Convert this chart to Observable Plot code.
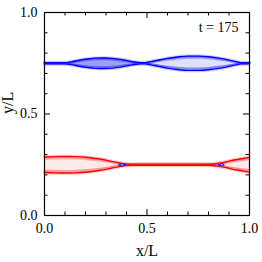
<!DOCTYPE html>
<html>
<head>
<meta charset="utf-8">
<script src="https://cdn.jsdelivr.net/npm/d3@7"></script>
<script src="https://cdn.jsdelivr.net/npm/@observablehq/plot@0.6"></script>
<style>
  html, body { margin: 0; padding: 0; background: white; }
</style>
</head>
<body>
<div id="chart"></div>
<script>
// ---- data ----
const majorTicks = [0, 0.5, 1];
const minorTicks = [0.1, 0.2, 0.3, 0.4, 0.6, 0.7, 0.8, 0.9];
const xLabel = "x/L";
const yLabel = "y/L";
const timeLabel = "t = 175";

// upper (blue) current sheet at y/L = 0.75
const blueY0 = 0.75;
const blueX     = [0, 0.05, 0.10, 0.13, 0.17, 0.21, 0.25, 0.29, 0.33, 0.37, 0.41, 0.44, 0.47, 0.49, 0.52, 0.56, 0.60, 0.65, 0.70, 0.75, 0.80, 0.85, 0.89, 0.93, 0.96, 1.0];
const blueHalf  = [0.003, 0.003, 0.003, 0.007, 0.015, 0.021, 0.025, 0.026, 0.024, 0.019, 0.012, 0.006, 0.003, 0.003, 0.008, 0.016, 0.024, 0.031, 0.035, 0.035, 0.032, 0.025, 0.018, 0.009, 0.003, 0.003];
const blueInner = [0, 0, 0, 0.002, 0.008, 0.013, 0.016, 0.017, 0.015, 0.011, 0.006, 0.002, 0, 0, 0.003, 0.009, 0.015, 0.020, 0.023, 0.023, 0.021, 0.015, 0.010, 0.004, 0, 0];

// lower (red) current sheet at y/L = 0.25
const redY0 = 0.25;
const redX     = [0, 0.05, 0.10, 0.15, 0.20, 0.25, 0.30, 0.34, 0.37, 0.40, 0.43, 0.50, 0.60, 0.70, 0.78, 0.82, 0.85, 0.88, 0.91, 0.94, 0.97, 1.0];
const redHalf  = [0.038, 0.040, 0.041, 0.040, 0.037, 0.031, 0.023, 0.014, 0.008, 0.004, 0.003, 0.003, 0.003, 0.003, 0.003, 0.004, 0.008, 0.013, 0.020, 0.026, 0.031, 0.036];
const redInner = [0.026, 0.028, 0.029, 0.028, 0.025, 0.020, 0.014, 0.007, 0.004, 0.001, 0, 0, 0, 0, 0, 0, 0.002, 0.006, 0.012, 0.016, 0.020, 0.024];

// reversed-current (blue) spots at the X-points of the red sheet
const xPointX     = [0.378, 0.865];
const xPointStart = [0.362, 0.848];
const xPointEnd   = [0.402, 0.880];

// ---- build tables ----
const blue = blueX.map((x, i) => ({x, hw: blueHalf[i], hi: blueInner[i]}));
const red  = redX.map((x, i) => ({x, hw: redHalf[i], hi: redInner[i]}));
const xpts = xPointX.map((x, i) => ({x, x1: xPointStart[i], x2: xPointEnd[i]}));

const FONT = "Liberation Serif";
const W = 262, H = 262;
const mL = 44, mR = 13, mT = 12, mB = 47;
const pw = W - mL - mR, ph = H - mT - mB;
const majLen = 6, minLen = 3.5;
const C = "monotone-x";

function outlineMarks(data, y0, color) {
  const marks = [];
  for (const s of [-1, 1]) {
    marks.push(Plot.line(data, {x: "x", y: d => y0 + s * d.hi, stroke: color, strokeOpacity: 0.3, strokeWidth: 0.8, curve: C}));
    marks.push(Plot.line(data, {x: "x", y: d => y0 + s * d.hw, stroke: color, strokeOpacity: 0.22, strokeWidth: 3.6, curve: C}));
    marks.push(Plot.line(data, {x: "x", y: d => y0 + s * d.hw, stroke: color, strokeWidth: 1.4, curve: C}));
  }
  return marks;
}

const redMarks = [
  Plot.areaY(red, {x: "x", y1: d => redY0 - d.hw, y2: d => redY0 + d.hw, fill: "#ffc2c2", curve: C}),
  Plot.areaY(red, {x: "x", y1: d => redY0 - d.hi, y2: d => redY0 + d.hi, fill: "#ffeaea", curve: C}),
  ...outlineMarks(red, redY0, "#ff0000")
];

const blueMarks = [
  Plot.areaY(blue, {filter: d => d.x <= 0.49, x: "x", y1: d => blueY0 - d.hw, y2: d => blueY0 + d.hw, fill: "#8f96f3", curve: C}),
  Plot.areaY(blue, {filter: d => d.x >= 0.47, x: "x", y1: d => blueY0 - d.hw, y2: d => blueY0 + d.hw, fill: "#adb3f6", curve: C}),
  Plot.areaY(blue, {filter: d => d.x <= 0.49, x: "x", y1: d => blueY0 - d.hi, y2: d => blueY0 + d.hi, fill: "#9aa0f4", curve: C}),
  Plot.areaY(blue, {filter: d => d.x >= 0.47, x: "x", y1: d => blueY0 - d.hi, y2: d => blueY0 + d.hi, fill: "#dfe2fc", curve: C}),
  ...outlineMarks(blue, blueY0, "#0000ff")
];

const chart = Plot.plot({
  width: W, height: H,
  marginLeft: mL, marginRight: mR, marginTop: mT, marginBottom: mB,
  x: {domain: [0, 1]},
  y: {domain: [0, 1]},
  style: {fontFamily: FONT, fontSize: "14px", background: "white", color: "black"},
  marks: [
    ...redMarks,
    ...blueMarks,
    Plot.ruleY(xpts, {y: () => redY0, x1: "x1", x2: "x2", stroke: "#2020ff", strokeWidth: 1.8}),
    Plot.dot(xpts, {x: "x", y: () => redY0, r: 2, fill: "#3030ff"}),
    Plot.dot(xpts, {x: "x", y: () => redY0, r: 0.8, fill: "#c8d0ff"}),
    // inward ticks on all four sides
    Plot.tickX(majorTicks, {x: d => d, insetTop: ph - majLen, stroke: "black"}),
    Plot.tickX(minorTicks, {x: d => d, insetTop: ph - minLen, stroke: "black"}),
    Plot.tickX(majorTicks, {x: d => d, insetBottom: ph - majLen, stroke: "black"}),
    Plot.tickX(minorTicks, {x: d => d, insetBottom: ph - minLen, stroke: "black"}),
    Plot.tickY(majorTicks, {y: d => d, insetRight: pw - majLen, stroke: "black"}),
    Plot.tickY(minorTicks, {y: d => d, insetRight: pw - minLen, stroke: "black"}),
    Plot.tickY(majorTicks, {y: d => d, insetLeft: pw - majLen, stroke: "black"}),
    Plot.tickY(minorTicks, {y: d => d, insetLeft: pw - minLen, stroke: "black"}),
    Plot.frame({stroke: "black", strokeWidth: 1.2}),
    Plot.axisX({ticks: majorTicks, tickSize: 0, tickPadding: 8, tickFormat: d3.format(".1f"), label: null, fontSize: 14, fontFamily: FONT}),
    Plot.axisY({ticks: majorTicks, tickSize: 0, tickPadding: 7, tickFormat: d3.format(".1f"), label: null, fontSize: 14, fontFamily: FONT}),
    Plot.text([xLabel], {frameAnchor: "bottom", dy: 35, lineAnchor: "middle", fontSize: 16, fontFamily: FONT}),
    Plot.text([yLabel], {frameAnchor: "left", dx: -37, rotate: -90, lineAnchor: "middle", fontSize: 16, fontFamily: FONT}),
    Plot.text([timeLabel], {frameAnchor: "top-right", dx: -11, dy: 10, textAnchor: "end", lineAnchor: "top", fontSize: 14, fontFamily: FONT})
  ]
});
document.getElementById("chart").appendChild(chart);
</script>
</body>
</html>
